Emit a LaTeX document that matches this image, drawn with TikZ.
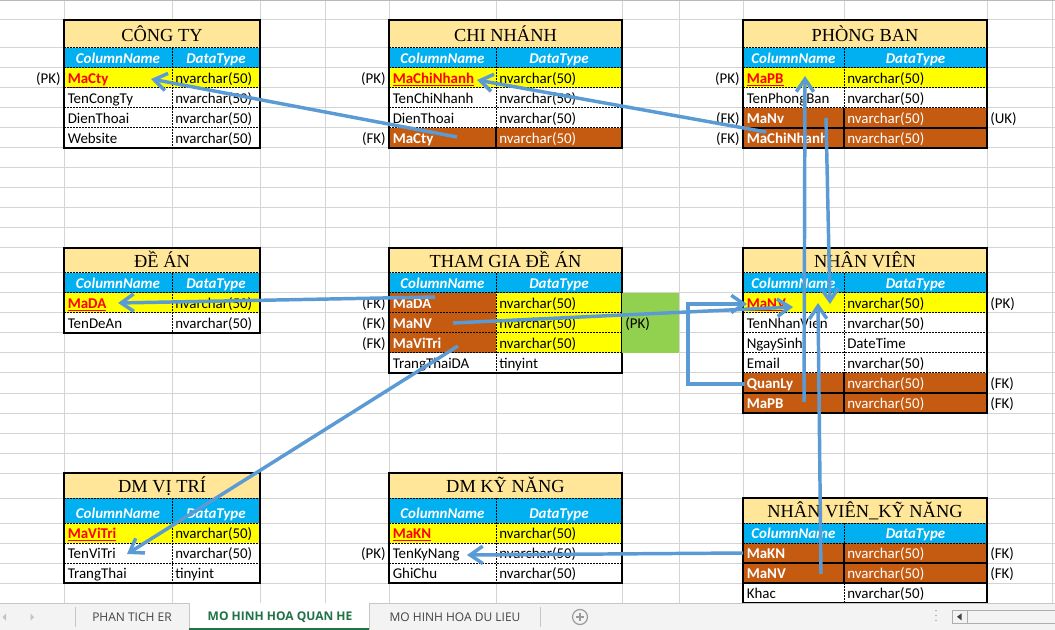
\documentclass[tikz,border=0pt]{standalone}
\usepackage{fontspec}
\setmainfont{Carlito}
\newfontfamily\titlefont{Liberation Serif}
\newfontfamily\tabfont{Open Sans}
\usetikzlibrary{arrows.meta}
\definecolor{gridc}{HTML}{D4D4D4}
\definecolor{titlec}{HTML}{FFE699}
\definecolor{headc}{HTML}{00B0F0}
\definecolor{pkc}{HTML}{FFFF00}
\definecolor{fkc}{HTML}{C55A11}
\definecolor{greenc}{HTML}{92D050}
\definecolor{redc}{HTML}{FF0000}
\definecolor{arrowc}{HTML}{5B9BD5}
\definecolor{tabbg}{HTML}{F3F3F3}
\definecolor{tabline}{HTML}{C6C6C6}
\definecolor{tabtext}{HTML}{444444}
\definecolor{tabgreen}{HTML}{217346}
\definecolor{iconc}{HTML}{9A9A9A}

\newcommand\pkname[1]{\textcolor{redc}{\bfseries\underline{#1}}}
\newcommand\fkname[1]{\textcolor{white}{\bfseries #1}}
\newcommand\wtext[1]{\textcolor{white}{#1}}

\tikzset{
  cell/.style={inner sep=0pt, anchor=base west, font=\fontsize{11.2}{13}\selectfont},
  headtxt/.style={inner sep=0pt, anchor=base, text=white, font=\fontsize{11.2}{13}\selectfont\bfseries\itshape},
  titletxt/.style={inner sep=0pt, anchor=base, font=\titlefont\fontsize{13.8}{15}\selectfont},
  lbl/.style={inner sep=0pt, font=\fontsize{11.2}{13}\selectfont},
  lbll/.style={lbl, anchor=base east},
  lblr/.style={lbl, anchor=base west},
  innerline/.style={line width=0.75pt, dash pattern=on 1.5pt off 0.75pt},
  outerline/.style={line width=0.8pt, draw=black},
  relarrow/.style={line width=2.6pt, draw=arrowc, -{Straight Barb[length=9.5pt,width=13pt]}},
  gridline/.style={draw=gridc, line width=0.75pt},
  tabtxt/.style={inner sep=0pt, text=tabtext, font=\tabfont\fontsize{9}{11}\selectfont},
  tabact/.style={inner sep=0pt, text=tabgreen, font=\tabfont\bfseries\fontsize{9}{11}\selectfont},
}

% table helpers: columns in \xa \xb \xc
\newcommand\tbltitle[5]{%
  \fill[titlec] (\xa,#2) rectangle (\xc,#3);
  \node[titletxt] (#1) at ({(\xa+\xc)/2},#3-#4) {#5};}
\newcommand\tblhead[3]{%
  \fill[headc] (\xa,#2) rectangle (\xc,#3);
  \node[headtxt] (#1c) at ({(\xa+\xb)/2},#3-4.7) {ColumnName};
  \node[headtxt] (#1t) at ({(\xb+\xc)/2},#3-4.7) {DataType};}
\newcommand\tblrow[7]{%
  \fill[#4] (\xa,#2) rectangle (\xb,#3);
  \fill[#5] (\xb,#2) rectangle (\xc,#3);
  \node[cell] (#1c) at (\xa+3.5,#3-4.5) {#6};
  \node[cell] (#1t) at (\xb+3,#3-4.5) {#7};}
\newcommand\tblframe[4]{%
  \foreach \yy in {#4} {\draw[innerline] (\xa,\yy) -- (\xc,\yy);}
  \draw[innerline] (\xb,#2) -- (\xb,#3);
  \draw[outerline] (\xa,#1) rectangle (\xc,#3);}

\begin{document}
\begin{tikzpicture}[x=0.75pt,y=-0.75pt]
\useasboundingbox (0,0) rectangle (1055,630);
\fill[white] (0,0) rectangle (1055,630);

% grid
\foreach \gx in {64,172,260,325,389,496,622,679,743,844,987,1052}
  \draw[gridline] (\gx,0) -- (\gx,603);
\foreach \gy in {20,48,68,88,108,128,148,168,188,208,228,248,273,293,313,333,353,373,393,413,433,453,473,498,523,543,563,583}
  \draw[gridline] (0,\gy) -- (1055,\gy);
\draw[draw=iconc!70, line width=0.75pt] (0,0.4) -- (1055,0.4);

% ---------- CONG TY ----------
\def\xa{64}\def\xb{172}\def\xc{260}
\tbltitle{ctT}{20}{48}{6}{CÔNG TY}
\tblhead{ctH}{48}{68}
\tblrow{ct1}{68}{88}{pkc}{pkc}{\pkname{MaCty}}{nvarchar(50)}
\tblrow{ct2}{88}{108}{white}{white}{TenCongTy}{nvarchar(50)}
\tblrow{ct3}{108}{128}{white}{white}{DienThoai}{nvarchar(50)}
\tblrow{ct4}{128}{148}{white}{white}{Website}{nvarchar(50)}
\tblframe{20}{48}{148}{48,68,88,108,128}
\node[lbll] (ctPK) at (61,83.5) {(PK)};

% ---------- CHI NHANH ----------
\def\xa{389}\def\xb{496}\def\xc{622}
\tbltitle{cnT}{20}{48}{6}{CHI NHÁNH}
\tblhead{cnH}{48}{68}
\tblrow{cn1}{68}{88}{pkc}{pkc}{\pkname{MaChiNhanh}}{nvarchar(50)}
\tblrow{cn2}{88}{108}{white}{white}{TenChiNhanh}{nvarchar(50)}
\tblrow{cn3}{108}{128}{white}{white}{DienThoai}{nvarchar(50)}
\tblrow{cn4}{128}{148}{fkc}{fkc}{\fkname{MaCty}}{\wtext{nvarchar(50)}}
\tblframe{20}{48}{148}{48,68,88,108,128}
\draw[outerline] (\xb,128) -- (\xb,148);
\node[lbll] (cnPK) at (386,83.5) {(PK)};
\node[lbll] (cnFK) at (386,143.5) {(FK)};

% ---------- PHONG BAN ----------
\def\xa{743}\def\xb{844}\def\xc{987}
\tbltitle{pbT}{20}{48}{6}{PHÒNG BAN}
\tblhead{pbH}{48}{68}
\tblrow{pb1}{68}{88}{pkc}{pkc}{\pkname{MaPB}}{nvarchar(50)}
\tblrow{pb2}{88}{108}{white}{white}{TenPhongBan}{nvarchar(50)}
\tblrow{pb3}{108}{128}{fkc}{fkc}{\fkname{MaNv}}{\wtext{nvarchar(50)}}
\tblrow{pb4}{128}{148}{fkc}{fkc}{\fkname{MaChiNhanh}}{\wtext{nvarchar(50)}}
\tblframe{20}{48}{148}{48,68,88,108}
\draw[outerline] (\xa,128) -- (\xc,128);
\draw[outerline] (\xb,108) -- (\xb,148);
\node[lbll] (pbPK) at (740,83.5) {(PK)};
\node[lbll] (pbFK1) at (740,123.5) {(FK)};
\node[lbll] (pbFK2) at (740,143.5) {(FK)};
\node[lblr] (pbUK) at (990,123.5) {(UK)};

% ---------- DE AN ----------
\def\xa{64}\def\xb{172}\def\xc{260}
\tbltitle{daT}{248}{273}{5}{ĐỀ ÁN}
\tblhead{daH}{273}{293}
\tblrow{da1}{293}{313}{pkc}{pkc}{\pkname{MaDA}}{nvarchar(50)}
\tblrow{da2}{313}{333}{white}{white}{TenDeAn}{nvarchar(50)}
\tblframe{248}{273}{333}{273,293,313}

% ---------- THAM GIA DE AN ----------
\def\xa{389}\def\xb{496}\def\xc{622}
\tbltitle{tgT}{248}{273}{5}{THAM GIA ĐỀ ÁN}
\tblhead{tgH}{273}{293}
\tblrow{tg1}{293}{313}{fkc}{pkc}{\fkname{MaDA}}{nvarchar(50)}
\tblrow{tg2}{313}{333}{fkc}{pkc}{\fkname{MaNV}}{nvarchar(50)}
\tblrow{tg3}{333}{353}{fkc}{pkc}{\fkname{MaViTri}}{nvarchar(50)}
\tblrow{tg4}{353}{373}{white}{white}{TrangThaiDA}{tinyint}
\tblframe{248}{273}{373}{273,293,313,333,353}
\fill[greenc] (622.4,293) rectangle (679,353);
\node[lblr] (tgPK) at (625,328.5) {(PK)};
\node[lbll] (tgFK1) at (386,308.5) {(FK)};
\node[lbll] (tgFK2) at (386,328.5) {(FK)};
\node[lbll] (tgFK3) at (386,348.5) {(FK)};

% ---------- NHAN VIEN ----------
\def\xa{743}\def\xb{844}\def\xc{987}
\tbltitle{nvT}{248}{273}{5}{NHÂN VIÊN}
\tblhead{nvH}{273}{293}
\tblrow{nv1}{293}{313}{pkc}{pkc}{\pkname{MaNV}}{nvarchar(50)}
\tblrow{nv2}{313}{333}{white}{white}{TenNhanVien}{nvarchar(50)}
\tblrow{nv3}{333}{353}{white}{white}{NgaySinh}{DateTime}
\tblrow{nv4}{353}{373}{white}{white}{Email}{nvarchar(50)}
\tblrow{nv5}{373}{393}{fkc}{fkc}{\fkname{QuanLy}}{\wtext{nvarchar(50)}}
\tblrow{nv6}{393}{413}{fkc}{fkc}{\fkname{MaPB}}{\wtext{nvarchar(50)}}
\tblframe{248}{273}{413}{273,293,313,333,353,373}
\draw[outerline] (\xa,393) -- (\xc,393);
\draw[outerline] (\xb,373) -- (\xb,413);
\node[lblr] (nvPK) at (990,308.5) {(PK)};
\node[lblr] (nvFK1) at (990,388.5) {(FK)};
\node[lblr] (nvFK2) at (990,408.5) {(FK)};

% ---------- DM VI TRI ----------
\def\xa{64}\def\xb{172}\def\xc{260}
\tbltitle{vtT}{473}{498}{6}{DM VỊ TRÍ}
\tblhead{vtH}{498}{523}
\tblrow{vt1}{523}{543}{pkc}{pkc}{\pkname{MaViTri}}{nvarchar(50)}
\tblrow{vt2}{543}{563}{white}{white}{TenViTri}{nvarchar(50)}
\tblrow{vt3}{563}{583}{white}{white}{TrangThai}{tinyint}
\tblframe{473}{498}{583}{498,523,543,563}

% ---------- DM KY NANG ----------
\def\xa{389}\def\xb{496}\def\xc{622}
\tbltitle{knT}{473}{498}{6}{DM KỸ NĂNG}
\tblhead{knH}{498}{523}
\tblrow{kn1}{523}{543}{pkc}{pkc}{\pkname{MaKN}}{nvarchar(50)}
\tblrow{kn2}{543}{563}{white}{white}{TenKyNang}{nvarchar(50)}
\tblrow{kn3}{563}{583}{white}{white}{GhiChu}{nvarchar(50)}
\tblframe{473}{498}{583}{498,523,543,563}
\node[lbll] (knPK) at (386,558.5) {(PK)};

% ---------- NHAN VIEN_KY NANG ----------
\def\xa{743}\def\xb{844}\def\xc{987}
\tbltitle{nkT}{498}{523}{6}{NHÂN VIÊN\_KỸ NĂNG}
\tblhead{nkH}{523}{543}
\tblrow{nk1}{543}{563}{fkc}{fkc}{\fkname{MaKN}}{\wtext{nvarchar(50)}}
\tblrow{nk2}{563}{583}{fkc}{fkc}{\fkname{MaNV}}{\wtext{nvarchar(50)}}
\tblrow{nk3}{583}{603}{white}{white}{Khac}{nvarchar(50)}
\tblframe{498}{523}{603}{523,543}
\draw[outerline] (\xa,563) -- (\xc,563);
\draw[outerline] (\xa,583) -- (\xc,583);
\draw[outerline] (\xb,543) -- (\xb,583);
\node[lblr] (nkFK1) at (990,558.5) {(FK)};
\node[lblr] (nkFK2) at (990,578.5) {(FK)};

% ---------- relationships ----------
\coordinate (a1s) at (457,137); \coordinate (a1e) at (151,79);
\coordinate (a2s) at (766,132); \coordinate (a2e) at (477,80);
\coordinate (a3s) at (804,402); \coordinate (a3e) at (805,76);
\coordinate (a4s) at (826,118); \coordinate (a4e) at (830,304);
\coordinate (a5s) at (821,574); \coordinate (a5e) at (818,303);
\coordinate (a6s) at (453,323); \coordinate (a6e) at (793,307);
\coordinate (a7s) at (745,384); \coordinate (a7b) at (688,304); \coordinate (a7e) at (747,304);
\coordinate (a8s) at (435,297); \coordinate (a8e) at (118,303);
\coordinate (a9s) at (458,346); \coordinate (a9e) at (127,554);
\coordinate (a10s) at (743,553); \coordinate (a10e) at (467,555);

\draw[relarrow] (a1s) -- (a1e);
\draw[relarrow] (a2s) -- (a2e);
\draw[relarrow] (a3s) -- (a3e);
\draw[relarrow] (a4s) -- (a4e);
\draw[relarrow] (a5s) -- (a5e);
\draw[relarrow] (a6s) -- (a6e);
\draw[relarrow] (a7s) -| (a7b) -- (a7e);
\draw[relarrow] (a8s) -- (a8e);
\draw[relarrow] (a9s) -- (a9e);
\draw[relarrow] (a10s) -- (a10e);

% ---------- sheet tab bar ----------
\fill[tabbg] (0,603) rectangle (1055,630);
\draw[tabline, line width=0.75pt] (0,603) -- (1055,603);
\fill[white] (189,603.4) rectangle (369,630);
\draw[tabline, line width=0.75pt] (189,603) -- (189,630);
\draw[tabline, line width=0.75pt] (369,603) -- (369,630);
\draw[tabgreen, line width=1.6pt] (189,628.8) -- (369,628.8);
\draw[tabline, line width=0.75pt] (75,607) -- (75,627);
\draw[tabline, line width=0.75pt] (540,607) -- (540,627);
\fill[iconc!60] (2.5,617) -- (6,613.5) -- (6,620.5) -- cycle;
\fill[iconc!60] (34,617) -- (30.5,613.5) -- (30.5,620.5) -- cycle;
\node[tabtxt] (tabER) at (132,617.5) {PHAN TICH ER};
\node[tabact] (tabQH) at (280,617.5) {MO HINH HOA QUAN HE};
\node[tabtxt] (tabDL) at (455,617.5) {MO HINH HOA DU LIEU};
\draw[iconc, line width=0.9pt] (580,617) circle (7.5);
\draw[iconc, line width=0.9pt] (576,617) -- (584,617) (580,613) -- (580,621);
\fill[iconc!80] (936,610.5) circle (0.9) (936,615.5) circle (0.9) (936,620.5) circle (0.9);
\draw[iconc!80, line width=0.75pt] (952,610) rectangle (1058,623.5);
\draw[iconc!80, line width=0.75pt] (967,610) -- (967,623.5);
\fill[tabtext] (957,616.8) -- (961.5,613.3) -- (961.5,620.3) -- cycle;
\end{tikzpicture}
\end{document}
